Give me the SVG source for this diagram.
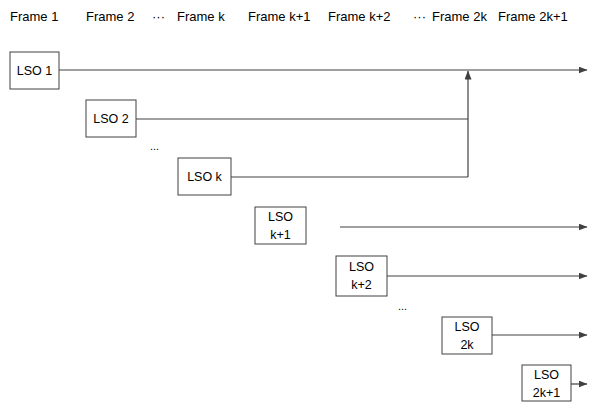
<svg xmlns="http://www.w3.org/2000/svg" width="589" height="402" viewBox="0 0 589 402">
<style>
text{font-family:"Liberation Sans",Arial,sans-serif;font-size:12.5px;fill:#000}
.hdr{font-size:13px}
.box{fill:#fff;stroke:#404040;stroke-width:1}
.ln{fill:none;stroke:#404040;stroke-width:1.2}
.lbl{text-anchor:middle}
</style>
<defs>
<marker id="ar" markerWidth="9" markerHeight="7" refX="8.5" refY="3.5" orient="auto" markerUnits="userSpaceOnUse">
<path d="M0,0 L9,3.5 L0,7 Z" fill="#404040"/>
</marker>
</defs>
<g id="header">
<text class="hdr" x="10" y="21">Frame 1</text>
<text class="hdr" x="86" y="21">Frame 2</text>
<text class="hdr" x="152" y="21">···</text>
<text class="hdr" x="177" y="21">Frame k</text>
<text class="hdr" x="248" y="21">Frame k+1</text>
<text class="hdr" x="328" y="21">Frame k+2</text>
<text class="hdr" x="413" y="21">···</text>
<text class="hdr" x="432" y="21">Frame 2k</text>
<text class="hdr" x="498" y="21">Frame 2k+1</text>
</g>
<g id="connectors">
<line class="ln" x1="59" y1="70" x2="587" y2="70" marker-end="url(#ar)"/>
<line class="ln" x1="136" y1="119" x2="468" y2="119"/>
<line class="ln" x1="231" y1="177" x2="468" y2="177"/>
<line class="ln" x1="468" y1="177" x2="468" y2="71" marker-end="url(#ar)"/>
<line class="ln" x1="340" y1="227" x2="587" y2="227" marker-end="url(#ar)"/>
<line class="ln" x1="387" y1="276" x2="587" y2="276" marker-end="url(#ar)"/>
<line class="ln" x1="492" y1="335" x2="587" y2="335" marker-end="url(#ar)"/>
<line class="ln" x1="571" y1="384" x2="587" y2="384" marker-end="url(#ar)"/>
</g>
<g id="lso1"><rect class="box" x="10" y="52" width="49" height="37"/><text class="lbl" x="34.5" y="75">LSO 1</text></g>
<g id="lso2"><rect class="box" x="86" y="100" width="50" height="37"/><text class="lbl" x="111" y="123">LSO 2</text></g>
<text id="dots1" x="150" y="150" style="font-size:11px">...</text>
<g id="lsok"><rect class="box" x="178" y="158" width="53" height="37"/><text class="lbl" x="204.5" y="181">LSO k</text></g>
<g id="lsok1"><rect class="box" x="255" y="207" width="51" height="37"/><text class="lbl" x="280.5" y="221">LSO</text><text class="lbl" x="280.5" y="239">k+1</text></g>
<g id="lsok2"><rect class="box" x="336" y="256" width="51" height="40"/><text class="lbl" x="361.5" y="271">LSO</text><text class="lbl" x="361.5" y="289">k+2</text></g>
<text id="dots2" x="398" y="310" style="font-size:11px">...</text>
<g id="lso2k"><rect class="box" x="442" y="317" width="50" height="37"/><text class="lbl" x="467" y="331">LSO</text><text class="lbl" x="467" y="349">2k</text></g>
<g id="lso2k1"><rect class="box" x="522" y="365" width="49" height="36"/><text class="lbl" x="546.5" y="379">LSO</text><text class="lbl" x="546.5" y="397">2k+1</text></g>
</svg>
